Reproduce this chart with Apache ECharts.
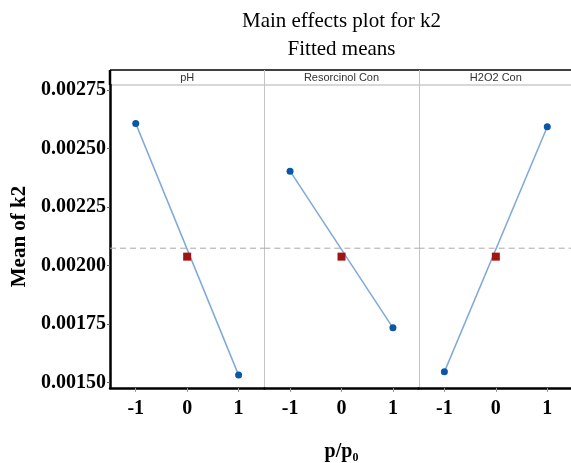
<!DOCTYPE html>
<html><head><meta charset="utf-8">
<script src="https://cdn.jsdelivr.net/npm/echarts@6/dist/echarts.min.js"></script>
<style>html,body{margin:0;padding:0;background:#fff}#c{width:571px;height:463px}</style>
</head><body><div id="c"></div>
<script>
// ---- data ----
const factors = ['pH', 'Resorcinol Con', 'H2O2 Con'];
const xTicks = [-1, 0, 1];
const lowMeans = [0.002607, 0.002403, 0.001546];   // level -1
const highMeans = [0.001532, 0.001734, 0.002593];  // level +1
const centerMeans = [0.002038, 0.002038, 0.002038]; // center point (0)
const yTicks = [0.0015, 0.00175, 0.002, 0.00225, 0.0025, 0.00275];
const overallMean = 0.002074;
const xRange = [-1.5, 1.5];
const yRange = [0.001477, 0.002771];
const titleLines = ['Main effects plot for k2', 'Fitted means'];
const yName = 'Mean of k2';
const xName = 'p/p\u2080';

// ---- layout ----
const H_ = 463;
const L = 110, R = 573, TOP = 70, HEAD = 15, AX = 388;
const PW = (R - L) / 3;
const serif = 'Liberation Serif';

const grids = [], xAxes = [], yAxes = [], series = [];
factors.forEach((f, i) => {
  grids.push({ left: L + i * PW, width: PW, top: TOP + HEAD, bottom: H_ - AX, containLabel: false, outerBoundsMode: 'none' });
  xAxes.push({
    type: 'value', gridIndex: i, min: xRange[0], max: xRange[1],
    splitLine: { show: false },
    axisLine: { show: true, onZero: false, lineStyle: { color: '#000', width: 2.5 } },
    axisTick: { show: true, customValues: xTicks, length: 4, lineStyle: { color: '#999' } },
    axisLabel: { customValues: xTicks, fontFamily: serif, fontWeight: 'bold', fontSize: 20, color: '#000', margin: 11 },
    name: i === 1 ? xName : '', nameLocation: 'middle', nameGap: 54,
    nameTextStyle: { fontFamily: serif, fontWeight: 'bold', fontSize: 20, color: '#000' }
  });
  yAxes.push({
    type: 'value', gridIndex: i, min: yRange[0], max: yRange[1],
    show: i === 0,
    splitLine: { show: false },
    axisLine: { show: true, onZero: false, lineStyle: { color: '#000', width: 2.5 } },
    axisTick: { show: true, customValues: yTicks, length: 3, lineStyle: { color: '#666' } },
    axisLabel: { customValues: yTicks, formatter: v => v.toFixed(5), fontFamily: serif, fontWeight: 'bold', fontSize: 20, color: '#000', margin: 4 },
    name: i === 0 ? yName : '', nameLocation: 'middle', nameGap: 80, nameRotate: 90,
    nameTextStyle: { fontFamily: serif, fontWeight: 'bold', fontSize: 21, color: '#000' }
  });
  series.push({
    type: 'line', xAxisIndex: i, yAxisIndex: i, silent: true,
    data: [[xRange[0], overallMean], [xRange[1], overallMean]],
    symbol: 'none', lineStyle: { color: '#aaa', type: [6, 4], width: 1 }, z: 2
  });
  series.push({
    type: 'line', xAxisIndex: i, yAxisIndex: i,
    data: [[xTicks[0], lowMeans[i]], [xTicks[2], highMeans[i]]],
    symbol: 'circle', symbolSize: 7, showSymbol: true,
    itemStyle: { color: '#0b56a6', opacity: 1 },
    lineStyle: { color: '#7ea9d8', width: 1.5 },
    z: 3
  });
  series.push({
    type: 'scatter', xAxisIndex: i, yAxisIndex: i,
    data: [[xTicks[1], centerMeans[i]]],
    symbol: 'rect', symbolSize: 8,
    itemStyle: { color: '#a01414', opacity: 1 }, z: 4
  });
});

const graphic = [];
titleLines.forEach((t, k) => graphic.push({
  type: 'text', x: (L + R) / 2, y: 21 + k * 28,
  style: { text: t, fontFamily: serif, fontSize: 21, fill: '#000', align: 'center', verticalAlign: 'middle' }
}));
graphic.push({ type: 'line', shape: { x1: L, y1: TOP, x2: R, y2: TOP }, style: { stroke: '#000', lineWidth: 1.5 } });
graphic.push({ type: 'line', shape: { x1: L, y1: TOP + HEAD, x2: R, y2: TOP + HEAD }, style: { stroke: '#b0b0b0', lineWidth: 1 } });
graphic.push({ type: 'line', shape: { x1: L, y1: TOP, x2: L, y2: TOP + HEAD }, style: { stroke: '#000', lineWidth: 2.5 } });
for (let k = 1; k < 3; k++) {
  const x = Math.round(L + k * PW) + 0.5;
  graphic.push({ type: 'line', shape: { x1: x, y1: TOP, x2: x, y2: AX - 1 }, style: { stroke: '#c4c4c4', lineWidth: 1 } });
}
factors.forEach((f, i) => graphic.push({
  type: 'text', x: L + (i + 0.5) * PW, y: TOP + HEAD / 2 + 0.5,
  style: { text: f, fontFamily: 'Liberation Sans', fontSize: 11, fill: '#333', align: 'center', verticalAlign: 'middle' }
}));

const chart = echarts.init(document.getElementById('c'), null, { renderer: 'canvas' });
chart.setOption({
  animation: false,
  backgroundColor: '#fff',
  grid: grids, xAxis: xAxes, yAxis: yAxes, series: series,
  graphic: graphic
});
</script>
</body></html>
